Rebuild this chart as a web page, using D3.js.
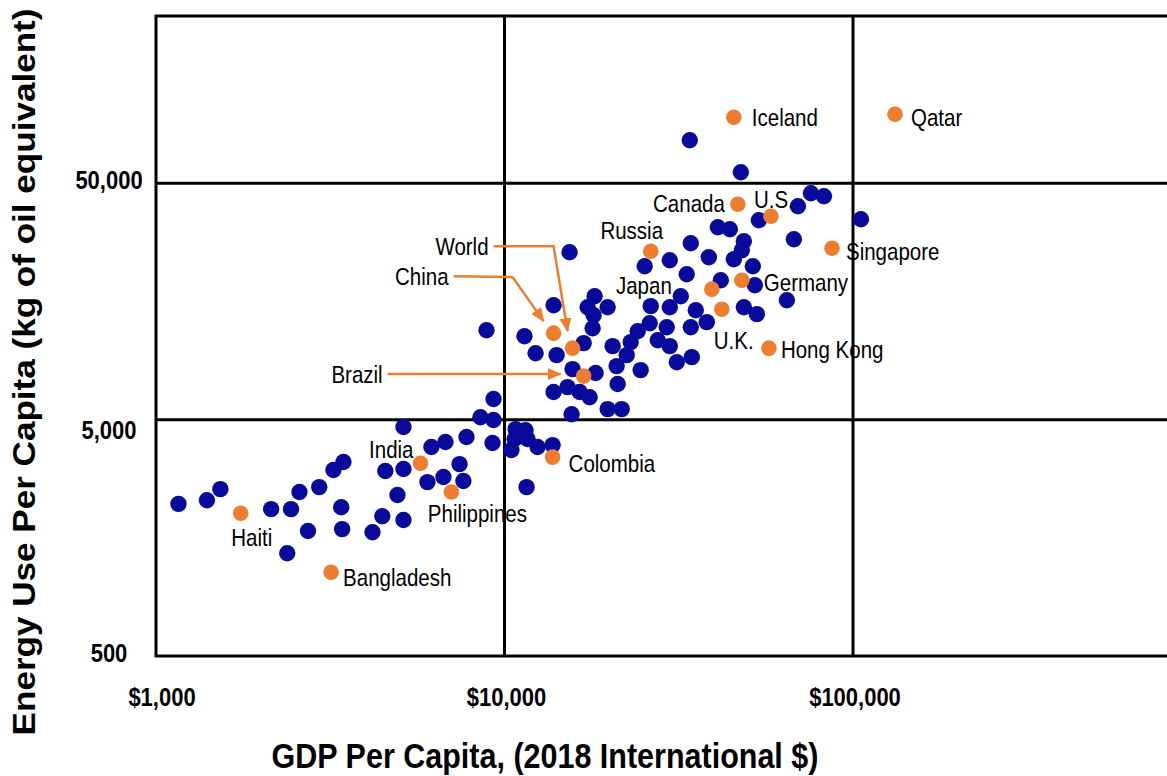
<!DOCTYPE html>
<html>
<head>
<meta charset="utf-8">
<title>Energy Use vs GDP Per Capita</title>
<script src="https://cdn.jsdelivr.net/npm/d3@7/dist/d3.min.js"></script>
<style>
  html, body { margin: 0; padding: 0; background: #ffffff; }
  svg { display: block; }
  text { font-family: "Liberation Sans", Arial, Helvetica, sans-serif; fill: #000; }
</style>
</head>
<body>
<svg id="chart" width="1167" height="776"></svg>
<script>
// ---- Data -------------------------------------------------------------
// Unlabelled countries: GDP per capita (2018 intl $) and energy use (kg oil eq.)
const otherGdp = [
  1160, 1400, 1530, 2140, 2440, 2580, 2940, 3230, 3450, 3400,
  2730, 3420, 2380, 4180, 4460, 5130, 4930, 4550, 5130, 5130,
  6170, 6770, 7780, 7430, 6010, 6680, 7620, 8530, 9300, 9300,
  9240, 10760, 11490, 10690, 11640, 12440, 13740, 10470, 11570, 15370,
  8880, 13830, 11410, 12280, 16870, 14110, 15680, 18260, 13830, 15170,
  16430, 17550, 15580, 19770, 21690, 21120, 20980, 20430, 24590, 17320,
  18140, 19770, 18020, 17900, 26280, 24110, 23020, 22420, 26100, 27530,
  29800, 29210, 29800, 32050, 31220, 34470, 25250, 29800, 33340, 34240,
  35390, 34240, 38060, 34010, 47660, 53690, 69500, 75730, 82540, 105400,
  67670, 40940, 44320, 48620, 47980, 45500, 51590, 38570, 41760, 52290,
  64600, 48620, 52980
];
const otherEnergy = [
  2200, 2280, 2540, 2090, 2090, 2470, 2590, 3060, 3310, 2130,
  1690, 1720, 1360, 1670, 1950, 1880, 2400, 3030, 3090, 4650,
  3830, 4020, 4220, 3240, 2720, 2860, 2750, 5120, 4980, 6110,
  3980, 4560, 4510, 4140, 4140, 3830, 3900, 3720, 2590, 25540,
  11950, 15240, 11270, 9550, 10530, 9370, 8180, 7870, 6540, 6860,
  6540, 6220, 5270, 5540, 5540, 7070, 8420, 10230, 8100, 14950,
  16640, 14950, 13830, 12180, 15100, 11830, 10640, 9370, 12790, 10840,
  10230, 12300, 14950, 16640, 8750, 9190, 22280, 23630, 20620, 27880,
  14520, 12300, 12920, 76010, 55650, 34880, 39970, 45360, 44060, 35220,
  28990, 32580, 31950, 28430, 26040, 23860, 22280, 24330, 19450, 18520,
  16000, 14950, 13970
];

// Highlighted countries
const namedCountries = [
  "Haiti", "Bangladesh", "India", "Philippines", "Colombia", "China",
  "World", "Brazil", "Russia", "Japan", "U.K.", "Germany", "Canada",
  "U.S.", "Hong Kong", "Singapore", "Iceland", "Qatar"
];
const namedGdp = [
  1750, 3180, 5740, 7040, 13740, 13830,
  15680, 16870, 26280, 39340, 42030, 47980, 46720,
  58140, 57370, 87040, 45500, 132000
];
const namedEnergy = [
  2010, 1130, 3270, 2470, 3470, 11610,
  10030, 7640, 25790, 17820, 14660, 19450, 40750,
  36260, 10030, 26550, 95070, 97900
];

// Axis ticks
const xTicks = [1000, 10000, 100000];
const xTickLabels = ["$1,000", "$10,000", "$100,000"];
const yTicks = [500, 5000, 50000];
const yTickLabels = ["500", "5,000", "50,000"];

// ---- Layout -----------------------------------------------------------
const BLUE = "#0a0a9a";
const ORANGE = "#ed7d31";
const STRETCH = 1.15;          // tall lettering used throughout the chart

// label placement relative to each highlighted dot
const labelLayout = {
  "Haiti":       { dx: 11,  dy: 24,  anchor: "middle" },
  "Bangladesh":  { dx: 12,  dy: 5,   anchor: "start" },
  "India":       { dx: -7,  dy: -14, anchor: "end" },
  "Philippines": { dx: 26,  dy: 21,  anchor: "middle" },
  "Colombia":    { dx: 16,  dy: 6,   anchor: "start" },
  "Russia":      { dx: -19, dy: -21, anchor: "middle" },
  "Japan":       { dx: -40, dy: -4,  anchor: "end" },
  "U.K.":        { dx: -8,  dy: 31,  anchor: "start" },
  "Germany":     { dx: 22,  dy: 2,   anchor: "start" },
  "Canada":      { dx: -13, dy: -1,  anchor: "end" },
  "U.S.":        { dx: -17, dy: -17, anchor: "start" },
  "Hong Kong":   { dx: 12,  dy: 1,   anchor: "start" },
  "Singapore":   { dx: 14,  dy: 3,   anchor: "start" },
  "Iceland":     { dx: 18,  dy: 0,   anchor: "start" },
  "Qatar":       { dx: 16,  dy: 3,   anchor: "start" }
};
// callouts with arrows: label end, optional elbow, arrow tip (relative to dot)
const callouts = {
  "World":  { label: [-84, -102], elbow: [-19, -102], tip: [-5, -17] },
  "China":  { label: [-105, -57], elbow: [-41, -56],  tip: [-10, -12] },
  "Brazil": { label: [-201, -2],  elbow: null,        tip: [-23, -2] }
};

const svg = d3.select("#chart");

const x = d3.scaleLog().domain([1000, 1e6]).range([156, 1201.5]);
const y = d3.scaleLog().domain([500, 255000]).range([656, 16]);

// helper: tall text, centred vertically on (px, py)
function tallText(parent, px, py, str, opts) {
  const g = parent.append("g")
    .attr("transform", `translate(${px},${py}) scale(1,${opts.stretch || STRETCH})`);
  return g.append("text")
    .attr("x", 0).attr("y", 0).attr("dy", "0.36em")
    .attr("text-anchor", opts.anchor || "start")
    .style("font-size", opts.size + "px")
    .style("font-weight", opts.weight || "normal")
    .text(str);
}

// ---- Grid and frame ---------------------------------------------------
const grid = svg.append("g");
const x0 = x.range()[0], x1 = x.range()[1];
const y0 = y.range()[0], y1 = y.range()[1];

grid.selectAll("line.vx")
  .data(xTicks.slice(1))
  .join("line")
  .attr("x1", d => x(d)).attr("x2", d => x(d))
  .attr("y1", y1).attr("y2", y0)
  .attr("stroke", "#000").attr("stroke-width", 3);

grid.selectAll("line.hy")
  .data(yTicks.slice(1))
  .join("line")
  .attr("x1", x0).attr("x2", x1)
  .attr("y1", d => y(d)).attr("y2", d => y(d))
  .attr("stroke", "#000").attr("stroke-width", 3);

grid.append("rect")
  .attr("x", x0).attr("y", y1)
  .attr("width", x1 - x0).attr("height", y0 - y1)
  .attr("fill", "none").attr("stroke", "#000").attr("stroke-width", 3);

// ---- Axis labels ------------------------------------------------------
const axisG = svg.append("g");
xTicks.forEach((t, i) => {
  tallText(axisG, x(t) + (i === 0 ? 6 : 2), 697, xTickLabels[i], { size: 22, weight: "bold", anchor: "middle" });
});
yTicks.forEach((t, i) => {
  tallText(axisG, 109, y(t) + (i === 1 ? 10 : -3), yTickLabels[i], { size: 22, weight: "bold", anchor: "middle" });
});

tallText(axisG, 545, 755, "GDP Per Capita, (2018 International $)",
  { size: 30.5, weight: "bold", anchor: "middle" });

// rotated y title, lengthened along the reading direction
svg.append("g")
  .attr("transform", `translate(24,372) rotate(-90) scale(${STRETCH},1)`)
  .append("text")
  .attr("x", 0).attr("y", 0).attr("dy", "0.36em")
  .attr("text-anchor", "middle")
  .style("font-size", "30.5px")
  .style("font-weight", "bold")
  .text("Energy Use Per Capita (kg of oil equivalent)");

// ---- Points -----------------------------------------------------------
const others = otherGdp.map((g, i) => ({ gdp: g, energy: otherEnergy[i] }));
const named = namedCountries.map((n, i) => ({ name: n, gdp: namedGdp[i], energy: namedEnergy[i] }));

svg.append("g").selectAll("circle")
  .data(others)
  .join("circle")
  .attr("cx", d => x(d.gdp))
  .attr("cy", d => y(d.energy))
  .attr("r", 8.2)
  .attr("fill", BLUE);

svg.append("g").selectAll("circle")
  .data(named)
  .join("circle")
  .attr("cx", d => x(d.gdp))
  .attr("cy", d => y(d.energy))
  .attr("r", 7.8)
  .attr("fill", ORANGE);

// ---- Labels -----------------------------------------------------------
const labelG = svg.append("g");
named.forEach(d => {
  const L = labelLayout[d.name];
  if (!L) return;
  tallText(labelG, x(d.gdp) + L.dx, y(d.energy) + L.dy, d.name, { size: 20.5, anchor: L.anchor });
});

// callout arrows
const defs = svg.append("defs");
defs.append("marker")
  .attr("id", "arrowhead")
  .attr("markerUnits", "userSpaceOnUse")
  .attr("markerWidth", 14).attr("markerHeight", 12)
  .attr("viewBox", "0 0 14 12")
  .attr("refX", 13).attr("refY", 6)
  .attr("orient", "auto")
  .append("path")
  .attr("d", "M0,0 L14,6 L0,12 Z")
  .attr("fill", ORANGE);

const arrowG = svg.append("g");
named.forEach(d => {
  const C = callouts[d.name];
  if (!C) return;
  const cx = x(d.gdp), cy = y(d.energy);
  const lx = cx + C.label[0], ly = cy + C.label[1];
  tallText(arrowG, lx, ly, d.name, { size: 20.5, anchor: "end" });
  const p = d3.path();
  p.moveTo(lx + 5, ly);
  if (C.elbow) p.lineTo(cx + C.elbow[0], cy + C.elbow[1]);
  p.lineTo(cx + C.tip[0], cy + C.tip[1]);
  arrowG.append("path")
    .attr("d", p.toString())
    .attr("fill", "none")
    .attr("stroke", ORANGE)
    .attr("stroke-width", 2.5)
    .attr("marker-end", "url(#arrowhead)");
});
</script>
</body>
</html>
